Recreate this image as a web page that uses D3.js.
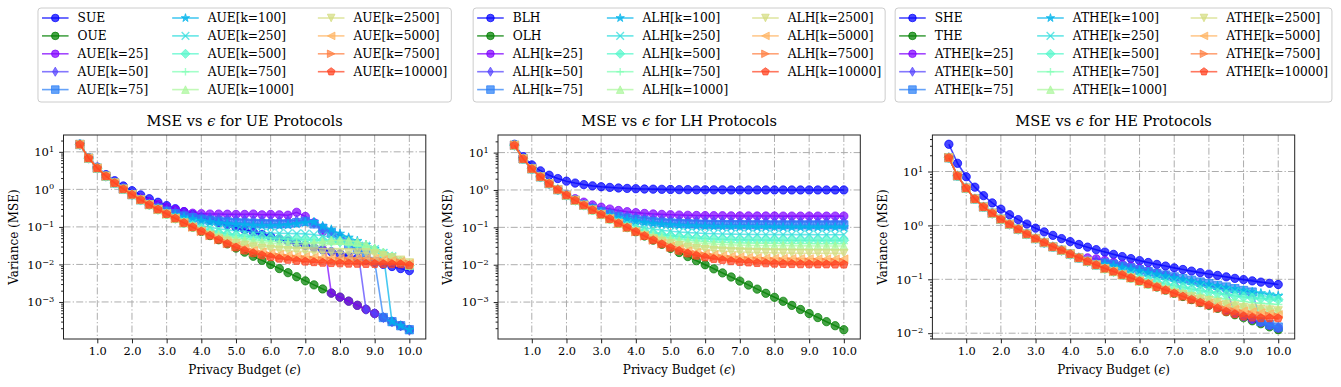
<!DOCTYPE html>
<html>
<head>
<meta charset="utf-8">
<script src="https://cdn.jsdelivr.net/npm/d3@7"></script>
<style>
  body { margin: 0; background: #fff; }
  text { font-family: "DejaVu Serif", serif; fill: #000; }
</style>
</head>
<body>
<svg id="chart" width="1341" height="387"></svg>
<script>
// privacy budgets on the x axis
const epsilons = [0.5, 0.75, 1, 1.25, 1.5, 1.75, 2, 2.25, 2.5, 2.75, 3, 3.25, 3.5, 3.75, 4, 4.25, 4.5, 4.75, 5,
  5.25, 5.5, 5.75, 6, 6.25, 6.5, 6.75, 7, 7.25, 7.5, 7.75, 8, 8.25, 8.5, 8.75, 9, 9.25, 9.5, 9.75, 10];
const xTicks = [1, 2, 3, 4, 5, 6, 7, 8, 9, 10];
const kValues = [25, 50, 75, 100, 250, 500, 750, 1000, 2500, 5000, 7500, 10000];

// ---- UE protocols ----
const sue = [15.9, 7.03, 3.92, 2.48, 1.7, 1.23, 0.921, 0.712, 0.563, 0.453, 0.37, 0.305, 0.255, 0.214, 0.181, 0.154, 0.132, 0.113, 0.0974,
  0.0842, 0.073, 0.0634, 0.0551, 0.0479, 0.042, 0.0367, 0.0321, 0.0281, 0.0247, 0.0217, 0.019, 0.0167, 0.0147, 0.0129, 0.0114, 0.01, 0.0088, 0.00775, 0.00683];
const oue = [15.7, 6.79, 3.68, 2.25, 1.48, 1.02, 0.724, 0.527, 0.39, 0.292, 0.221, 0.168, 0.128, 0.0987, 0.076, 0.0587, 0.0454, 0.0352, 0.0273,
  0.0212, 0.0165, 0.0128, 0.00997, 0.00775, 0.00603, 0.00469, 0.00365, 0.00285, 0.00222, 0.00172, 0.00134, 0.00105, 0.000814, 0.000634, 0.000494, 0.000385, 0.000299, 0.000233, 0.000182];
const aue25 = [15.7, 6.79, 3.68, 2.25, 1.48, 1.02, 0.752, 0.583, 0.472, 0.398, 0.335, 0.29, 0.255, 0.232, 0.225, 0.22, 0.22, 0.218, 0.215,
  0.215, 0.22, 0.21, 0.215, 0.21, 0.205, 0.245, 0.19, 0.13, 0.075, 0.00172, 0.00134, 0.00105, 0.000814, 0.000634, 0.000494, 0.000385, 0.000299, 0.000233, 0.000182];
const aue50 = [15.7, 6.79, 3.68, 2.25, 1.48, 1.02, 0.725, 0.538, 0.419, 0.34, 0.286, 0.249, 0.222, 0.202, 0.187, 0.176, 0.168, 0.162, 0.157,
  0.154, 0.151, 0.149, 0.147, 0.146, 0.145, 0.148, 0.15, 0.125, 0.098, 0.076, 0.058, 0.044, 0.03, 0.000634, 0.000494, 0.000385, 0.000299, 0.000233, 0.000182];
const aue75 = [15.7, 6.79, 3.68, 2.25, 1.48, 1.02, 0.724, 0.528, 0.401, 0.318, 0.262, 0.223, 0.195, 0.176, 0.161, 0.15, 0.142, 0.136, 0.131,
  0.128, 0.125, 0.123, 0.121, 0.12, 0.122, 0.13, 0.14, 0.12, 0.092, 0.068, 0.048, 0.034, 0.025, 0.018, 0.012, 0.000385, 0.000299, 0.000233, 0.000182];
const aue100 = [15.7, 6.79, 3.68, 2.25, 1.48, 1.02, 0.724, 0.527, 0.394, 0.307, 0.249, 0.208, 0.18, 0.16, 0.145, 0.134, 0.126, 0.12, 0.116,
  0.112, 0.109, 0.107, 0.106, 0.108, 0.112, 0.12, 0.13, 0.135, 0.105, 0.085, 0.066, 0.052, 0.042, 0.033, 0.026, 0.019, 0.000299, 0.000233, 0.000182];
const aue250 = [15.7, 6.79, 3.68, 2.25, 1.48, 1.02, 0.724, 0.527, 0.39, 0.292, 0.224, 0.178, 0.147, 0.125, 0.109, 0.0978, 0.0894, 0.0832, 0.0785,
  0.075, 0.0723, 0.0703, 0.0687, 0.0675, 0.0665, 0.066, 0.065, 0.062, 0.058, 0.053, 0.048, 0.043, 0.037, 0.031, 0.025, 0.02, 0.016, 0.012, 0.0095];
const aue500 = [15.7, 6.79, 3.68, 2.25, 1.48, 1.02, 0.724, 0.527, 0.39, 0.292, 0.221, 0.169, 0.133, 0.109, 0.0922, 0.0801, 0.0713, 0.0648, 0.06,
  0.0564, 0.0537, 0.0516, 0.0501, 0.0489, 0.0479, 0.047, 0.046, 0.045, 0.044, 0.042, 0.04, 0.037, 0.034, 0.03, 0.025, 0.02, 0.016, 0.012, 0.0093];
const aue750 = [15.7, 6.79, 3.68, 2.25, 1.48, 1.02, 0.724, 0.527, 0.39, 0.292, 0.221, 0.168, 0.13, 0.103, 0.0854, 0.0727, 0.0635, 0.0568, 0.0519,
  0.0483, 0.0455, 0.0434, 0.0418, 0.0406, 0.0397, 0.039, 0.038, 0.038, 0.037, 0.036, 0.035, 0.033, 0.031, 0.028, 0.024, 0.02, 0.016, 0.012, 0.0094];
const aue1000 = [15.7, 6.79, 3.68, 2.25, 1.48, 1.02, 0.724, 0.527, 0.39, 0.292, 0.221, 0.168, 0.1285, 0.101, 0.0818, 0.0685, 0.059, 0.0522, 0.0472,
  0.0434, 0.0407, 0.0386, 0.037, 0.0357, 0.0348, 0.034, 0.035, 0.037, 0.04, 0.043, 0.044, 0.043, 0.04, 0.034, 0.027, 0.021, 0.016, 0.012, 0.0095];
const aue2500 = [15.7, 6.79, 3.68, 2.25, 1.48, 1.02, 0.724, 0.527, 0.39, 0.292, 0.221, 0.168, 0.128, 0.0987, 0.0762, 0.0604, 0.0495, 0.0418, 0.0362,
  0.0322, 0.0292, 0.027, 0.0254, 0.0241, 0.0232, 0.0225, 0.0219, 0.0215, 0.0211, 0.0209, 0.0207, 0.0205, 0.0204, 0.0203, 0.019, 0.017, 0.015, 0.013, 0.011];
const aue5000 = [15.7, 6.79, 3.68, 2.25, 1.48, 1.02, 0.724, 0.527, 0.39, 0.292, 0.221, 0.168, 0.128, 0.0987, 0.076, 0.0587, 0.0461, 0.0374, 0.0313,
  0.0269, 0.0237, 0.0214, 0.0196, 0.0183, 0.0174, 0.0166, 0.0161, 0.0156, 0.0153, 0.015, 0.0148, 0.0147, 0.0146, 0.0145, 0.0142, 0.0135, 0.0128, 0.012, 0.0105];
const aue7500 = [15.7, 6.79, 3.68, 2.25, 1.48, 1.02, 0.724, 0.527, 0.39, 0.292, 0.221, 0.168, 0.128, 0.0987, 0.076, 0.0587, 0.0455, 0.036, 0.0294,
  0.0247, 0.0213, 0.0189, 0.0171, 0.0158, 0.0148, 0.014, 0.0135, 0.013, 0.0127, 0.0124, 0.0122, 0.0121, 0.012, 0.0119, 0.0118, 0.0117, 0.0114, 0.011, 0.0102];
const aue10000 = [15.7, 6.79, 3.68, 2.25, 1.48, 1.02, 0.724, 0.527, 0.39, 0.292, 0.221, 0.168, 0.128, 0.0987, 0.076, 0.0587, 0.0454, 0.0354, 0.0284,
  0.0235, 0.02, 0.0175, 0.0157, 0.0143, 0.0133, 0.0125, 0.0119, 0.0115, 0.0111, 0.0109, 0.0107, 0.0105, 0.0104, 0.0103, 0.0103, 0.0102, 0.0102, 0.0101, 0.0095];

// ---- LH protocols ----
const blh = [16.7, 7.79, 4.68, 3.25, 2.48, 2.02, 1.72, 1.53, 1.39, 1.29, 1.22, 1.17, 1.13, 1.1, 1.08, 1.06, 1.05, 1.04, 1.03,
  1.02, 1.02, 1.01, 1.01, 1.01, 1.01, 1, 1, 1, 1, 1, 1, 1, 1, 1, 1, 1, 1, 1, 1];
const olh = [15.7, 6.79, 3.68, 2.25, 1.48, 1.02, 0.724, 0.527, 0.39, 0.292, 0.221, 0.168, 0.128, 0.0987, 0.076, 0.0587, 0.0454, 0.0352, 0.0273,
  0.0212, 0.0165, 0.0128, 0.00997, 0.00775, 0.00603, 0.00469, 0.00365, 0.00285, 0.00222, 0.00172, 0.00134, 0.00105, 0.000814, 0.000634, 0.000494, 0.000385, 0.000299, 0.000233, 0.000182];
const alh25 = [15.7, 6.79, 3.68, 2.25, 1.48, 1.02, 0.752, 0.583, 0.472, 0.398, 0.346, 0.309, 0.282, 0.262, 0.247, 0.236, 0.228, 0.222, 0.217,
  0.213, 0.21, 0.208, 0.206, 0.205, 0.204, 0.203, 0.202, 0.202, 0.201, 0.201, 0.201, 0.2, 0.2, 0.2, 0.2, 0.2, 0.2, 0.2, 0.2];
const alh50 = [15.7, 6.79, 3.68, 2.25, 1.48, 1.02, 0.725, 0.538, 0.419, 0.34, 0.286, 0.249, 0.222, 0.202, 0.187, 0.176, 0.168, 0.162, 0.157,
  0.154, 0.151, 0.149, 0.147, 0.146, 0.145, 0.144, 0.144, 0.143, 0.143, 0.143, 0.142, 0.142, 0.142, 0.142, 0.142, 0.142, 0.142, 0.142, 0.142];
const alh75 = [15.7, 6.79, 3.68, 2.25, 1.48, 1.02, 0.724, 0.528, 0.401, 0.318, 0.262, 0.223, 0.195, 0.176, 0.161, 0.15, 0.142, 0.136, 0.131,
  0.128, 0.125, 0.123, 0.121, 0.12, 0.119, 0.118, 0.118, 0.117, 0.117, 0.117, 0.116, 0.116, 0.116, 0.116, 0.116, 0.116, 0.116, 0.116, 0.116];
const alh100 = [15.7, 6.79, 3.68, 2.25, 1.48, 1.02, 0.724, 0.527, 0.394, 0.307, 0.249, 0.208, 0.18, 0.16, 0.145, 0.134, 0.126, 0.12, 0.116,
  0.112, 0.109, 0.107, 0.106, 0.104, 0.103, 0.103, 0.102, 0.102, 0.101, 0.101, 0.101, 0.1, 0.1, 0.1, 0.1, 0.1, 0.1, 0.1, 0.1];
const alh250 = [15.7, 6.79, 3.68, 2.25, 1.48, 1.02, 0.724, 0.527, 0.39, 0.292, 0.224, 0.178, 0.147, 0.125, 0.109, 0.0978, 0.0894, 0.0832, 0.0785,
  0.075, 0.0723, 0.0703, 0.0687, 0.0675, 0.0665, 0.0658, 0.0652, 0.0648, 0.0645, 0.0642, 0.064, 0.0639, 0.0638, 0.0637, 0.0637, 0.0636, 0.0635, 0.0634, 0.0634];
const alh500 = [15.7, 6.79, 3.68, 2.25, 1.48, 1.02, 0.724, 0.527, 0.39, 0.292, 0.221, 0.169, 0.133, 0.109, 0.0922, 0.0801, 0.0713, 0.0648, 0.06,
  0.0564, 0.0537, 0.0516, 0.0501, 0.0489, 0.0479, 0.0472, 0.0466, 0.0462, 0.0459, 0.0456, 0.0454, 0.0453, 0.0452, 0.0451, 0.045, 0.0449, 0.0449, 0.0448, 0.0448];
const alh750 = [15.7, 6.79, 3.68, 2.25, 1.48, 1.02, 0.724, 0.527, 0.39, 0.292, 0.221, 0.168, 0.13, 0.103, 0.0854, 0.0727, 0.0635, 0.0568, 0.0519,
  0.0483, 0.0455, 0.0434, 0.0418, 0.0406, 0.0397, 0.039, 0.0384, 0.038, 0.0377, 0.0374, 0.0372, 0.0371, 0.037, 0.0369, 0.0368, 0.0367, 0.0366, 0.0366, 0.0366];
const alh1000 = [15.7, 6.79, 3.68, 2.25, 1.48, 1.02, 0.724, 0.527, 0.39, 0.292, 0.221, 0.168, 0.1285, 0.101, 0.0818, 0.0685, 0.059, 0.0522, 0.0472,
  0.0434, 0.0407, 0.0386, 0.037, 0.0357, 0.0348, 0.0341, 0.0335, 0.0331, 0.0328, 0.0325, 0.0323, 0.0322, 0.0321, 0.032, 0.0319, 0.0318, 0.0318, 0.0317, 0.0317];
const alh2500 = [15.7, 6.79, 3.68, 2.25, 1.48, 1.02, 0.724, 0.527, 0.39, 0.292, 0.221, 0.168, 0.128, 0.0987, 0.0762, 0.0604, 0.0495, 0.0418, 0.0362,
  0.0322, 0.0292, 0.027, 0.0254, 0.0241, 0.0232, 0.0225, 0.0219, 0.0215, 0.0211, 0.0209, 0.0207, 0.0205, 0.0204, 0.0203, 0.0202, 0.0202, 0.0202, 0.0201, 0.0201];
const alh5000 = [15.7, 6.79, 3.68, 2.25, 1.48, 1.02, 0.724, 0.527, 0.39, 0.292, 0.221, 0.168, 0.128, 0.0987, 0.076, 0.0587, 0.0461, 0.0374, 0.0313,
  0.0269, 0.0237, 0.0214, 0.0196, 0.0183, 0.0174, 0.0166, 0.0161, 0.0156, 0.0153, 0.015, 0.0148, 0.0147, 0.0146, 0.0145, 0.0144, 0.0143, 0.0143, 0.0142, 0.0142];
const alh7500 = [15.7, 6.79, 3.68, 2.25, 1.48, 1.02, 0.724, 0.527, 0.39, 0.292, 0.221, 0.168, 0.128, 0.0987, 0.076, 0.0587, 0.0455, 0.036, 0.0294,
  0.0247, 0.0213, 0.0189, 0.0171, 0.0158, 0.0148, 0.014, 0.0135, 0.013, 0.0127, 0.0124, 0.0122, 0.0121, 0.012, 0.0119, 0.0118, 0.0117, 0.0116, 0.0116, 0.0116];
const alh10000 = [15.7, 6.79, 3.68, 2.25, 1.48, 1.02, 0.724, 0.527, 0.39, 0.292, 0.221, 0.168, 0.128, 0.0987, 0.076, 0.0587, 0.0454, 0.0354, 0.0284,
  0.0235, 0.02, 0.0175, 0.0157, 0.0143, 0.0133, 0.0125, 0.0119, 0.0115, 0.0111, 0.0109, 0.0107, 0.0105, 0.0104, 0.0103, 0.0103, 0.0102, 0.0102, 0.0101, 0.0101];

// ---- HE protocols ----
const she = [32, 14.2, 8, 5.12, 3.56, 2.61, 2, 1.58, 1.28, 1.06, 0.889, 0.757, 0.653, 0.569, 0.5, 0.443, 0.395, 0.355, 0.32,
  0.29, 0.264, 0.242, 0.222, 0.205, 0.189, 0.176, 0.163, 0.152, 0.142, 0.133, 0.125, 0.118, 0.111, 0.104, 0.0988, 0.0935, 0.0886, 0.0842, 0.08];
const the = [18, 8.3, 4.9, 3.1, 2.2, 1.68, 1.3, 1.05, 0.85, 0.69, 0.57, 0.48, 0.4, 0.345, 0.295, 0.25, 0.215, 0.185, 0.158,
  0.139, 0.121, 0.106, 0.093, 0.082, 0.072, 0.063, 0.055, 0.048, 0.042, 0.037, 0.033, 0.029, 0.025, 0.022, 0.0194, 0.017, 0.015, 0.0131, 0.0116];
const athe25 = [18, 8.3, 4.9, 3.1, 2.2, 1.68, 1.3, 1.05, 0.85, 0.69, 0.57, 0.48, 0.4, 0.345, 0.295, 0.25, 0.25, 0.24, 0.225,
  0.205, 0.19, 0.175, 0.16, 0.145, 0.132, 0.12, 0.108, 0.052, 0.045, 0.04, 0.035, 0.031, 0.027, 0.0235, 0.0207, 0.0182, 0.016, 0.014, 0.0125];
const athe50 = [18, 8.3, 4.9, 3.1, 2.2, 1.68, 1.3, 1.05, 0.85, 0.69, 0.57, 0.48, 0.4, 0.345, 0.295, 0.25, 0.215, 0.22, 0.21,
  0.195, 0.18, 0.165, 0.152, 0.14, 0.128, 0.118, 0.108, 0.099, 0.091, 0.083, 0.076, 0.07, 0.064, 0.024, 0.021, 0.0185, 0.0163, 0.0143, 0.0128];
const athe75 = [18, 8.3, 4.9, 3.1, 2.2, 1.68, 1.3, 1.05, 0.85, 0.69, 0.57, 0.48, 0.4, 0.345, 0.295, 0.25, 0.215, 0.185, 0.2,
  0.188, 0.175, 0.162, 0.15, 0.139, 0.129, 0.12, 0.111, 0.103, 0.096, 0.089, 0.083, 0.077, 0.072, 0.067, 0.062, 0.058, 0.0165, 0.0145, 0.013];
const athe100 = [18, 8.3, 4.9, 3.1, 2.2, 1.68, 1.3, 1.05, 0.85, 0.69, 0.57, 0.48, 0.4, 0.345, 0.295, 0.25, 0.215, 0.185, 0.19,
  0.178, 0.165, 0.153, 0.142, 0.132, 0.123, 0.114, 0.106, 0.099, 0.092, 0.086, 0.08, 0.075, 0.07, 0.066, 0.062, 0.058, 0.055, 0.052, 0.049];
const athe250 = [18, 8.3, 4.9, 3.1, 2.2, 1.68, 1.3, 1.05, 0.85, 0.69, 0.57, 0.48, 0.4, 0.345, 0.295, 0.25, 0.215, 0.185, 0.158,
  0.15, 0.14, 0.13, 0.12, 0.112, 0.104, 0.097, 0.091, 0.085, 0.08, 0.075, 0.07, 0.066, 0.062, 0.059, 0.056, 0.053, 0.05, 0.048, 0.046];
const athe500 = [18, 8.3, 4.9, 3.1, 2.2, 1.68, 1.3, 1.05, 0.85, 0.69, 0.57, 0.48, 0.4, 0.345, 0.295, 0.25, 0.215, 0.185, 0.158,
  0.139, 0.121, 0.112, 0.104, 0.096, 0.089, 0.082, 0.076, 0.071, 0.066, 0.062, 0.058, 0.055, 0.052, 0.049, 0.047, 0.045, 0.044, 0.043, 0.042];
const athe750 = [18, 8.3, 4.9, 3.1, 2.2, 1.68, 1.3, 1.05, 0.85, 0.69, 0.57, 0.48, 0.4, 0.345, 0.295, 0.25, 0.215, 0.185, 0.158,
  0.139, 0.121, 0.106, 0.093, 0.088, 0.08, 0.073, 0.067, 0.062, 0.057, 0.053, 0.049, 0.046, 0.043, 0.041, 0.039, 0.037, 0.036, 0.035, 0.034];
const athe1000 = [18, 8.3, 4.9, 3.1, 2.2, 1.68, 1.3, 1.05, 0.85, 0.69, 0.57, 0.48, 0.4, 0.345, 0.295, 0.25, 0.215, 0.185, 0.158,
  0.139, 0.121, 0.106, 0.093, 0.082, 0.076, 0.069, 0.062, 0.056, 0.051, 0.047, 0.043, 0.04, 0.037, 0.035, 0.033, 0.031, 0.03, 0.029, 0.028];
const athe2500 = [18, 8.3, 4.9, 3.1, 2.2, 1.68, 1.3, 1.05, 0.85, 0.69, 0.57, 0.48, 0.4, 0.345, 0.295, 0.25, 0.215, 0.185, 0.158,
  0.139, 0.121, 0.106, 0.093, 0.082, 0.072, 0.063, 0.055, 0.052, 0.047, 0.043, 0.04, 0.037, 0.034, 0.032, 0.03, 0.029, 0.028, 0.027, 0.026];
const athe5000 = [18, 8.3, 4.9, 3.1, 2.2, 1.68, 1.3, 1.05, 0.85, 0.69, 0.57, 0.48, 0.4, 0.345, 0.295, 0.25, 0.215, 0.185, 0.158,
  0.139, 0.121, 0.106, 0.093, 0.082, 0.072, 0.063, 0.055, 0.048, 0.042, 0.037, 0.036, 0.033, 0.03, 0.028, 0.026, 0.025, 0.024, 0.023, 0.022];
const athe7500 = [18, 8.3, 4.9, 3.1, 2.2, 1.68, 1.3, 1.05, 0.85, 0.69, 0.57, 0.48, 0.4, 0.345, 0.295, 0.25, 0.215, 0.185, 0.158,
  0.139, 0.121, 0.106, 0.093, 0.082, 0.072, 0.063, 0.055, 0.048, 0.042, 0.037, 0.033, 0.029, 0.027, 0.025, 0.023, 0.022, 0.021, 0.021, 0.02];
const athe10000 = [18, 8.3, 4.9, 3.1, 2.2, 1.68, 1.3, 1.05, 0.85, 0.69, 0.57, 0.48, 0.4, 0.345, 0.295, 0.25, 0.215, 0.185, 0.158,
  0.139, 0.121, 0.106, 0.093, 0.082, 0.072, 0.063, 0.055, 0.048, 0.042, 0.037, 0.033, 0.029, 0.025, 0.0225, 0.0205, 0.0195, 0.019, 0.019, 0.019];

const panels = [
  { name: 'UE', base: ['SUE', 'OUE'], adaptive: 'AUE',
    series: [sue, oue, aue25, aue50, aue75, aue100, aue250, aue500, aue750, aue1000, aue2500, aue5000, aue7500, aue10000] },
  { name: 'LH', base: ['BLH', 'OLH'], adaptive: 'ALH',
    series: [blh, olh, alh25, alh50, alh75, alh100, alh250, alh500, alh750, alh1000, alh2500, alh5000, alh7500, alh10000] },
  { name: 'HE', base: ['SHE', 'THE'], adaptive: 'ATHE',
    series: [she, the, athe25, athe50, athe75, athe100, athe250, athe500, athe750, athe1000, athe2500, athe5000, athe7500, athe10000] }
];

// ---- layout / style ----
const panelLefts = [63.5, 498, 932.4];
const plotWidth = 362.3;
const plotTop = 135;
const plotBottom = 339;
const alpha = 0.72;
const markerSize = 8.3;
const lineWidth = 1.6;

// matplotlib "rainbow" colormap
function rainbow(t) {
  const c = v => Math.round(255 * Math.max(0, Math.min(1, v)));
  return `rgb(${c(Math.abs(2 * t - 0.5))},${c(Math.sin(Math.PI * t))},${c(Math.cos(Math.PI * t / 2))})`;
}
const colors = ['#0000ff', '#008000'].concat(kValues.map((k, i) => rainbow(i / kValues.length)));
const markers = ['o', 'o', 'o', 'd', 's', '*', 'x', 'D', '+', '^', 'v', '<', '>', 'p'];

function markerPath(type, m) {
  const h = m / 2;
  const poly = (n, r, inner) => {
    const pts = [];
    const steps = inner ? n * 2 : n;
    for (let i = 0; i < steps; i++) {
      const a = -Math.PI / 2 + i * Math.PI * 2 / steps;
      const rr = inner && i % 2 ? r * inner : r;
      pts.push([rr * Math.cos(a), rr * Math.sin(a)]);
    }
    return 'M' + pts.map(p => p[0].toFixed(2) + ',' + p[1].toFixed(2)).join('L') + 'Z';
  };
  const r2 = h * Math.SQRT2 * 0.85;
  switch (type) {
    case 'o': return d3.symbol(d3.symbolCircle, Math.PI * h * h)();
    case 's': return `M${-h},${-h}H${h}V${h}H${-h}Z`;
    case 'D': return `M0,${-r2}L${r2},0L0,${r2}L${-r2},0Z`;
    case 'd': return `M0,${-r2}L${0.6 * r2},0L0,${r2}L${-0.6 * r2},0Z`;
    case '^': return `M0,${-h}L${h},${h}L${-h},${h}Z`;
    case 'v': return `M0,${h}L${h},${-h}L${-h},${-h}Z`;
    case '<': return `M${-h},0L${h},${-h}L${h},${h}Z`;
    case '>': return `M${h},0L${-h},${-h}L${-h},${h}Z`;
    case 'p': return poly(5, h * 1.05);
    case '*': return poly(5, h * 1.15, 0.382);
    case 'x': return `M${-h},${-h}L${h},${h}M${-h},${h}L${h},${-h}`;
    case '+': return `M${-h},0H${h}M0,${-h}V${h}`;
  }
}

function styleMarker(sel, i, m) {
  const open = markers[i] === 'x' || markers[i] === '+';
  sel.attr('d', markerPath(markers[i], m || markerSize))
    .attr('fill', open ? 'none' : colors[i])
    .attr('fill-opacity', alpha)
    .attr('stroke', colors[i])
    .attr('stroke-opacity', alpha)
    .attr('stroke-width', open ? 1.4 : 1);
}

const svg = d3.select('#chart');

function drawLegend(items, cx) {
  const fs = 12.2, rowH = 17.9, handleLen = 26.6, handlePad = 9, colGap = 24, padL = 4, padR = 4, top = 8, nrows = 5;
  const g = svg.append('g');
  const cols = d3.range(3).map(c => items.slice(c * nrows, c * nrows + nrows));
  const tmp = g.append('text').style('font-size', fs + 'px');
  const colW = cols.map(col => handleLen + handlePad + d3.max(col, it => {
    tmp.text(it.label);
    return tmp.node().getComputedTextLength();
  }));
  tmp.remove();
  const total = padL + d3.sum(colW) + colGap * (cols.length - 1) + padR;
  const x0 = cx - total / 2;
  g.append('rect')
    .attr('x', x0).attr('y', top).attr('width', total).attr('height', 94)
    .attr('rx', 3).attr('fill', '#fff').attr('fill-opacity', 0.8)
    .attr('stroke', '#cccccc').attr('stroke-width', 1);
  let cxCol = x0 + padL;
  cols.forEach((col, c) => {
    col.forEach((it, r) => {
      const yy = top + 10 + r * rowH;
      g.append('line')
        .attr('x1', cxCol).attr('x2', cxCol + handleLen).attr('y1', yy).attr('y2', yy)
        .attr('stroke', colors[it.idx]).attr('stroke-opacity', alpha).attr('stroke-width', lineWidth);
      g.append('path')
        .attr('transform', `translate(${cxCol + handleLen / 2},${yy})`)
        .call(styleMarker, it.idx, 7.6);
      g.append('text')
        .attr('x', cxCol + handleLen + handlePad).attr('y', yy).attr('dy', '0.35em')
        .style('font-size', fs + 'px').text(it.label);
    });
    cxCol += colW[c] + colGap;
  });
}

panels.forEach((p, pi) => {
  const left = panelLefts[pi];
  const right = left + plotWidth;
  const cx = (left + right) / 2;
  const g = svg.append('g');

  const xExt = d3.extent(epsilons);
  const xPad = (xExt[1] - xExt[0]) * 0.05;
  const x = d3.scaleLinear().domain([xExt[0] - xPad, xExt[1] + xPad]).range([left, right]);

  const lg = d3.extent(p.series.flat()).map(Math.log10);
  const yPad = (lg[1] - lg[0]) * 0.05;
  const y = d3.scaleLog().domain([10 ** (lg[0] - yPad), 10 ** (lg[1] + yPad)]).range([plotBottom, plotTop]);

  const majors = d3.range(Math.ceil(lg[0] - yPad), Math.floor(lg[1] + yPad) + 1).map(e => 10 ** e);
  const minors = [];
  d3.range(Math.floor(lg[0] - yPad), Math.ceil(lg[1] + yPad)).forEach(e => {
    for (let m = 2; m <= 9; m++) {
      const v = m * 10 ** e;
      if (v >= y.domain()[0] && v <= y.domain()[1]) minors.push(v);
    }
  });

  // grid
  const grid = g.append('g').attr('stroke', '#adadad').attr('stroke-width', 1)
    .attr('stroke-dasharray', '7,2.2,1.3,2.2');
  grid.selectAll('.gx').data(xTicks).join('line')
    .attr('x1', d => x(d)).attr('x2', d => x(d)).attr('y1', plotTop).attr('y2', plotBottom);
  grid.selectAll('.gy').data(majors).join('line')
    .attr('x1', left).attr('x2', right).attr('y1', d => y(d)).attr('y2', d => y(d));

  // series
  const line = d3.line().x((d, i) => x(epsilons[i])).y(d => y(d));
  p.series.forEach((s, i) => {
    g.append('path').datum(s)
      .attr('d', line).attr('fill', 'none')
      .attr('stroke', colors[i]).attr('stroke-opacity', alpha).attr('stroke-width', lineWidth);
    g.append('g').selectAll('path').data(s).join('path')
      .attr('transform', (d, j) => `translate(${x(epsilons[j])},${y(d)})`)
      .call(styleMarker, i);
  });

  // frame
  g.append('rect').attr('x', left).attr('y', plotTop).attr('width', plotWidth).attr('height', plotBottom - plotTop)
    .attr('fill', 'none').attr('stroke', '#222').attr('stroke-width', 1);

  // axes
  const xAxis = g.append('g').attr('transform', `translate(0,${plotBottom})`)
    .call(d3.axisBottom(x).tickValues(xTicks).tickSize(4.3).tickPadding(3.5).tickFormat(d3.format('.1f')));
  xAxis.select('.domain').remove();
  xAxis.selectAll('text').style('font-size', '11.4px').style('font-family', '"DejaVu Serif", serif');

  const yAxis = g.append('g').attr('transform', `translate(${left},0)`)
    .call(d3.axisLeft(y).tickValues(majors).tickSize(4.3).tickPadding(5));
  yAxis.select('.domain').remove();
  yAxis.selectAll('.tick text').style('font-size', '11.6px').style('font-family', '"DejaVu Serif", serif')
    .each(function (d) {
      const t = d3.select(this);
      const e = Math.round(Math.log10(d));
      t.text(null);
      t.append('tspan').text('10');
      t.append('tspan').attr('dy', '-0.5em').style('font-size', '8.2px').text(e < 0 ? '\u2212' + (-e) : String(e));
    });
  const yMinor = g.append('g').attr('transform', `translate(${left},0)`)
    .call(d3.axisLeft(y).tickValues(minors).tickSize(2.4).tickFormat(''));
  yMinor.select('.domain').remove();
  g.selectAll('.tick line').attr('stroke', '#222');

  // labels
  const title = g.append('text').attr('x', cx).attr('y', 126).attr('text-anchor', 'middle').style('font-size', '14.6px');
  title.append('tspan').text('MSE vs ');
  title.append('tspan').style('font-style', 'italic').text('\u03f5');
  title.append('tspan').text(` for ${p.name} Protocols`);

  const xl = g.append('text').attr('x', cx).attr('y', 374).attr('text-anchor', 'middle').style('font-size', '12px');
  xl.append('tspan').text('Privacy Budget (');
  xl.append('tspan').style('font-style', 'italic').text('\u03f5');
  xl.append('tspan').text(')');

  g.append('text').attr('transform', `translate(${left - 50},${(plotTop + plotBottom) / 2}) rotate(-90)`)
    .attr('text-anchor', 'middle').attr('dy', '0.35em').style('font-size', '12px').text('Variance (MSE)');

  const items = p.series.map((s, i) => ({
    idx: i,
    label: i < 2 ? p.base[i] : `${p.adaptive}[k=${kValues[i - 2]}]`
  }));
  drawLegend(items, cx);
});
</script>
</body>
</html>
